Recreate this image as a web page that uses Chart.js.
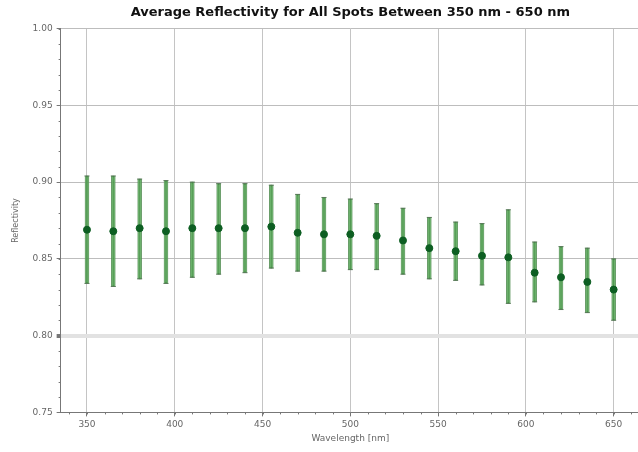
<!DOCTYPE html>
<html>
<head>
<meta charset="utf-8">
<script src="https://cdn.jsdelivr.net/npm/chart.js@4"></script>
<style>
  html, body { margin: 0; padding: 0; background: #fff; overflow: hidden; }
  #wrap { position: relative; width: 645px; height: 452px; }
</style>
</head>
<body>
<div id="wrap"><canvas id="chart"></canvas></div>
<script>
// wavelength (nm) of each spot average
const wavelengths = [350, 365, 380, 395, 410, 425, 440, 455, 470, 485, 500,
  515, 530, 545, 560, 575, 590, 605, 620, 635, 650];
// mean reflectivity
const means = [0.869, 0.868, 0.870, 0.868, 0.870, 0.870, 0.870, 0.871, 0.867, 0.866, 0.866,
  0.865, 0.862, 0.857, 0.855, 0.852, 0.851, 0.841, 0.838, 0.835, 0.830];
// upper / lower ends of the error bars
const upper = [0.904, 0.904, 0.902, 0.901, 0.900, 0.899, 0.899, 0.898, 0.892, 0.890, 0.889,
  0.886, 0.883, 0.877, 0.874, 0.873, 0.882, 0.861, 0.858, 0.857, 0.850];
const lower = [0.834, 0.832, 0.837, 0.834, 0.838, 0.840, 0.841, 0.844, 0.842, 0.842, 0.843,
  0.843, 0.840, 0.837, 0.836, 0.833, 0.821, 0.822, 0.817, 0.815, 0.810];
const xTicks = [350, 400, 450, 500, 550, 600, 650];
const yTicks = [0.75, 0.80, 0.85, 0.90, 0.95, 1.00];

const FONT = 'DejaVu Sans, sans-serif';

const ranges = wavelengths.map(function (w, i) { return { x: w, y: [lower[i], upper[i]] }; });
const centers = wavelengths.map(function (w, i) { return { x: w, y: means[i] }; });
const caps = wavelengths.map(function (w, i) { return { x: w, y: upper[i] }; })
  .concat(wavelengths.map(function (w, i) { return { x: w, y: lower[i] }; }));

// minor tick marks on both axes, placed through the scales
const minorTicks = {
  id: 'minorTicks',
  afterDraw: function (chart) {
    const ctx = chart.ctx;
    const xs = chart.scales.x, ys = chart.scales.y;
    const area = chart.chartArea;
    ctx.save();
    ctx.strokeStyle = '#777';
    ctx.lineWidth = 1;
    ctx.beginPath();
    for (let v = 0.75; v <= 1.0001; v += 0.01) {
      const py = Math.round(ys.getPixelForValue(v)) + 0.5;
      ctx.moveTo(area.left - 2, py);
      ctx.lineTo(area.left, py);
    }
    for (let w = 340; w <= 660; w += 10) {
      const px = Math.round(xs.getPixelForValue(w)) + 0.5;
      ctx.moveTo(px, area.bottom);
      ctx.lineTo(px, area.bottom + 2);
    }
    ctx.stroke();
    ctx.restore();
  }
};

new Chart(document.getElementById('chart'), {
  type: 'bar',
  data: {
    datasets: [
      {
        type: 'bar',
        label: 'band',
        data: ranges,
        backgroundColor: 'rgba(130, 205, 130, 0.75)',
        borderColor: 'rgba(80, 140, 80, 0.85)',
        borderWidth: 1,
        borderSkipped: false,
        barThickness: 4,
        grouped: false,
        order: 3
      },
      {
        type: 'bar',
        label: 'line',
        data: ranges,
        backgroundColor: 'rgba(40, 120, 40, 0.6)',
        borderWidth: 0,
        barThickness: 1,
        grouped: false,
        order: 2
      },
      {
        type: 'scatter',
        label: 'caps',
        data: caps,
        pointStyle: 'line',
        pointRadius: 2.5,
        borderColor: '#5a7a5a',
        borderWidth: 1,
        backgroundColor: '#5a7a5a',
        order: 1
      },
      {
        type: 'scatter',
        label: 'mean',
        data: centers,
        pointStyle: 'circle',
        pointRadius: 3.5,
        backgroundColor: '#0d5e22',
        borderColor: '#0d5e22',
        borderWidth: 1,
        order: 0
      }
    ]
  },
  options: {
    responsive: true,
    maintainAspectRatio: false,
    animation: false,
    layout: { padding: { top: 5, right: 0, left: 11, bottom: 8 } },
    plugins: {
      legend: { display: false },
      tooltip: { enabled: false },
      title: {
        display: true,
        fullSize: false,
        text: 'Average Reflectivity for All Spots Between 350 nm - 650 nm',
        color: '#111',
        font: { family: FONT, size: 13, weight: 'bold' },
        padding: { top: 0, bottom: 8 }
      }
    },
    scales: {
      x: {
        type: 'linear',
        min: 335,
        max: 665,
        offset: false,
        afterBuildTicks: function (scale) {
          scale.ticks = xTicks.map(function (v) { return { value: v }; });
        },
        grid: {
          offset: false,
          color: '#c4c4c4',
          lineWidth: 1,
          tickLength: 4,
          tickColor: '#777'
        },
        border: { color: '#777', width: 1 },
        ticks: {
          color: '#666',
          font: { family: FONT, size: 9 },
          padding: 3,
          maxRotation: 0
        },
        title: {
          display: true,
          text: 'Wavelength [nm]',
          color: '#666',
          font: { family: FONT, size: 9 },
          padding: { top: 0, bottom: 0 }
        }
      },
      y: {
        min: 0.75,
        max: 1.00,
        afterBuildTicks: function (scale) {
          scale.ticks = yTicks.map(function (v) { return { value: v }; });
        },
        grid: {
          color: function (c) { return c.tick && Math.abs(c.tick.value - 0.80) < 1e-6 ? '#e2e2e2' : '#bdbdbd'; },
          lineWidth: function (c) { return c.tick && Math.abs(c.tick.value - 0.80) < 1e-6 ? 4 : 1; },
          tickLength: 4,
          tickColor: '#777'
        },
        border: { color: '#777', width: 1 },
        ticks: {
          color: '#666',
          font: { family: FONT, size: 9 },
          padding: 4,
          callback: function (v) { return Number(v).toFixed(2); }
        },
        title: {
          display: true,
          text: 'Reflectivity',
          color: '#666',
          font: { family: FONT, size: 8 },
          padding: { top: 0, bottom: 8 }
        }
      }
    }
  },
  plugins: [minorTicks]
});
</script>
</body>
</html>
